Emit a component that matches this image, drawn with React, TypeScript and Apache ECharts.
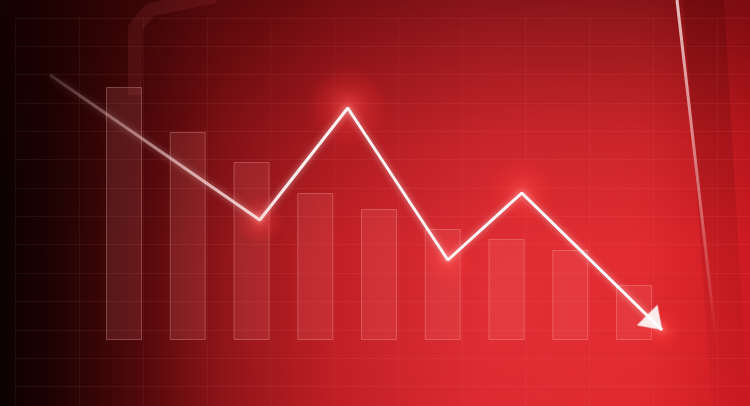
import React, { useEffect, useRef } from "react";
import * as echarts from "echarts";

// Data (bar index units on x, value units on y)
const periods = ["1", "2", "3", "4", "5", "6", "7", "8", "9"];
const barPositions = [0, 1, 2, 3, 4, 5, 6, 7, 8];
const barValues = [253, 208, 178, 147, 131, 111, 101, 90, 55];
const lineX = [-1.16, 2.13, 3.51, 5.08, 6.24, 8.44];
const lineY = [265, 120, 232, 80, 147, 10];
const glowSizes = [50, 85, 55, 75, 45];

export default function App() {
  const ref = useRef<HTMLDivElement>(null);
  useEffect(() => {
    document.body.style.margin = "0";
    const chart = echarts.init(ref.current!, null, { renderer: "svg" });
    const bars = barPositions.map((x, i) => ({ value: [x, barValues[i]], name: periods[i] }));
    const line = lineX.map((x, i) => [x, lineY[i]]);
    const G = echarts.graphic;

    chart.setOption({
      animation: false,
      backgroundColor: "#b0141b",
      graphic: [
        {
          type: "rect", z: -20, silent: true,
          shape: { x: 0, y: 0, width: 750, height: 406 },
          style: {
            fill: new G.LinearGradient(0, 0, 1, 0, [
              { offset: 0, color: "#0c0101" },
              { offset: 0.08, color: "#220303" },
              { offset: 0.18, color: "#4e080a" },
              { offset: 0.3, color: "#8a1115" },
              { offset: 0.45, color: "#b8171e" },
              { offset: 0.65, color: "#d62028" },
              { offset: 0.85, color: "#dc2329" },
              { offset: 1, color: "#c9151c" },
            ]),
          },
        },
        {
          type: "rect", z: -19, silent: true,
          shape: { x: 0, y: 0, width: 750, height: 406 },
          style: {
            fill: new G.LinearGradient(0, 0, 0, 1, [
              { offset: 0, color: "rgba(30,0,0,0.45)" },
              { offset: 0.35, color: "rgba(30,0,0,0.12)" },
              { offset: 0.6, color: "rgba(0,0,0,0)" },
              { offset: 1, color: "rgba(0,0,0,0)" },
            ]),
          },
        },
        {
          type: "circle", z: -18, silent: true,
          shape: { cx: 500, cy: 300, r: 360 },
          style: {
            fill: new G.RadialGradient(0.5, 0.5, 0.5, [
              { offset: 0, color: "rgba(255,90,90,0.25)" },
              { offset: 1, color: "rgba(255,90,90,0)" },
            ]),
          },
        },
        {
          type: "polyline", z: -17, silent: true,
          shape: { points: [[135, 95], [135, 28], [150, 10], [215, -4]] },
          style: { stroke: "rgba(255,110,110,0.09)", lineWidth: 14, fill: "none" },
        },
        {
          type: "polygon", z: -17, silent: true,
          shape: { points: [[683, 0], [724, 0], [748, 406], [712, 406]] },
          style: {
            fill: new G.LinearGradient(0, 0, 0, 1, [
              { offset: 0, color: "rgba(70,0,0,0.25)" },
              { offset: 1, color: "rgba(70,0,0,0.03)" },
            ]),
          },
        },
        {
          type: "line", z: -16, silent: true,
          shape: { x1: 677, y1: 0, x2: 716, y2: 340 },
          style: {
            stroke: new G.LinearGradient(0, 0, 0, 1, [
              { offset: 0, color: "rgba(255,235,235,0.8)" },
              { offset: 0.6, color: "rgba(255,220,220,0.4)" },
              { offset: 1, color: "rgba(255,200,200,0)" },
            ]),
            lineWidth: 3,
          },
        },
      ],
      grid: [
        { left: 0, right: 0, top: 0, bottom: 66 },
        { left: 15.5, right: 0, top: 18, bottom: 0 },
      ],
      xAxis: [
        { type: "value", gridIndex: 0, min: -1.9451, max: 9.8196, show: false },
        {
          type: "value", gridIndex: 1, min: 0, max: 11.52, interval: 1,
          axisLine: { show: false }, axisTick: { show: false }, axisLabel: { show: false },
          splitLine: { show: true, lineStyle: { color: "rgba(255,170,170,0.06)", width: 1 } },
        },
      ],
      yAxis: [
        { type: "value", gridIndex: 0, min: 0, max: 340, show: false },
        {
          type: "value", gridIndex: 1, min: 0, max: 13.69, interval: 1, inverse: true,
          axisLine: { show: false }, axisTick: { show: false }, axisLabel: { show: false },
          splitLine: { show: true, lineStyle: { color: "rgba(255,170,170,0.07)", width: 1 } },
        },
      ],
      series: [
        {
          type: "bar", xAxisIndex: 0, yAxisIndex: 0, data: bars, barWidth: 36, z: 2,
          itemStyle: {
            color: "rgba(255,150,150,0.13)",
            borderColor: "rgba(255,190,190,0.3)",
            borderWidth: 1,
          },
        },
        {
          type: "scatter", xAxisIndex: 0, yAxisIndex: 0, z: 3, silent: true,
          data: line.slice(1).map((p, i) => ({ value: p, symbolSize: glowSizes[i] })),
          symbol: "circle",
          itemStyle: {
            color: new G.RadialGradient(0.5, 0.5, 0.5, [
              { offset: 0, color: "rgba(255,80,80,0.8)" },
              { offset: 0.5, color: "rgba(255,60,60,0.3)" },
              { offset: 1, color: "rgba(255,40,40,0)" },
            ]),
          },
        },
        {
          type: "line", xAxisIndex: 0, yAxisIndex: 0, z: 4, data: line,
          clip: false, showSymbol: false, symbol: "none",
          lineStyle: {
            width: 3,
            color: new G.LinearGradient(0, 0, 1, 0, [
              { offset: 0, color: "rgba(255,200,200,0.15)" },
              { offset: 0.25, color: "rgba(255,225,225,0.7)" },
              { offset: 0.4, color: "#fff0f0" },
              { offset: 1, color: "#ffffff" },
            ]),
            shadowColor: "rgba(255,255,255,0.6)",
            shadowBlur: 6,
          },
        },
        {
          type: "scatter", xAxisIndex: 0, yAxisIndex: 0, z: 5,
          data: [line[line.length - 1]],
          symbol: "triangle", symbolSize: [29, 21], symbolRotate: -135,
          symbolOffset: [-7.4, -7.5],
          itemStyle: { color: "#ffffff", shadowColor: "rgba(255,255,255,0.6)", shadowBlur: 6 },
        },
      ],
    });
    return () => chart.dispose();
  }, []);
  return <div ref={ref} style={{ width: 750, height: 406 }} />;
}
